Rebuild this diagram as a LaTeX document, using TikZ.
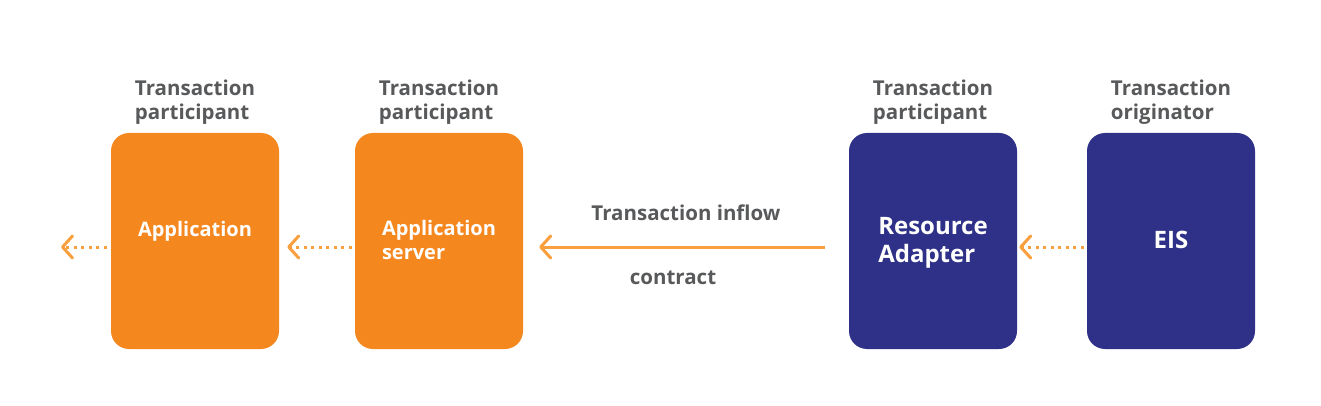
\documentclass[tikz,border=0pt]{standalone}
\usepackage{fontspec}
\setmainfont{Open Sans}
\usetikzlibrary{arrows.meta}
\definecolor{boxorange}{HTML}{F5871F}
\definecolor{arroworange}{HTML}{F99F3E}
\definecolor{boxnavy}{HTML}{2E3187}
\definecolor{labelgrey}{HTML}{58595B}
\begin{document}
\begin{tikzpicture}[x=1pt,y=-1pt,
  block/.style={rounded corners=18pt,minimum width=168pt,minimum height=216pt,inner sep=0pt},
  role/.style={font=\bfseries\fontsize{20.5}{24}\selectfont,text=labelgrey,align=left,anchor=south,inner sep=0pt,yshift=8pt},
  inside/.style={font=\bfseries\fontsize{20}{24}\selectfont,text=white,align=left},
  flowtext/.style={text=labelgrey,font=\bfseries\fontsize{20.5}{24}\selectfont},
  flow/.style={draw=arroworange,line width=3pt,-{Straight Barb[length=10pt,width=22pt,line width=3pt,round]}},
  dotflow/.style={flow,dash pattern=on 3pt off 4.5pt}]
  \useasboundingbox (0,0) rectangle (1321,406);

  \node [block,fill=boxorange] (app) at (195,241) {};
  \node [block,fill=boxorange] (appsrv) at (439,241) {};
  \node [block,fill=boxnavy] (ra) at (933,241) {};
  \node [block,fill=boxnavy] (eis) at (1171,241) {};

  \node [role] (appRole) at (app.north) {Transaction\\participant};
  \node [role] (appsrvRole) at (appsrv.north) {Transaction\\participant};
  \node [role] (raRole) at (ra.north) {Transaction\\participant};
  \node [role] (eisRole) at (eis.north) {Transaction\\originator};

  \node [inside] (appText) at (195,231) {Application};
  \node [inside] (appsrvText) at (439,240) {Application\\server};
  \node [inside,font=\bfseries\fontsize{24}{28}\selectfont] (raText) at (933,243) {Resource\\Adapter};
  \node [inside,font=\bfseries\fontsize{24}{28}\selectfont] (eisText) at (1171,240) {EIS};

  \coordinate (out) at (61,247);
  \draw [dotflow,shorten <=4pt] (app.west |- out) -- (out);
  \draw [dotflow,shorten <=3pt,shorten >=8pt] (appsrv.west |- out) -- (app.east |- out);
  \draw [flow,shorten <=24pt,shorten >=16pt] (ra.west |- out) -- node [above=21pt,flowtext] (inflow) {Transaction inflow}
    node [below=19pt,xshift=-13pt,flowtext] (contract) {contract} (appsrv.east |- out);
  \draw [dotflow,shorten <=3pt,shorten >=2pt] (eis.west |- out) -- (ra.east |- out);
\end{tikzpicture}
\end{document}
